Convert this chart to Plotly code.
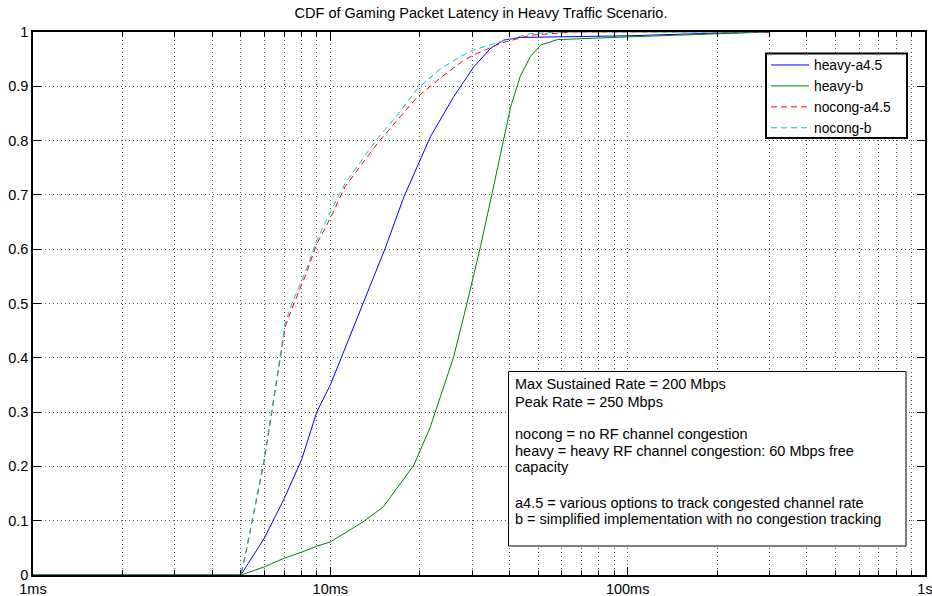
import plotly.graph_objects as go

# ---- data (latency in ms, CDF values) ----
heavy_a45_t = [1, 5, 6, 7, 8, 9, 10, 12.7, 15.3, 17.7, 20, 21.7, 26, 30.4, 34.6, 38.3, 43.5, 60, 100, 200, 300]
heavy_a45_p = [0, 0, 0.068, 0.141, 0.212, 0.30, 0.35, 0.49, 0.602, 0.697, 0.764, 0.807, 0.881, 0.936, 0.970, 0.985, 0.990, 0.991, 0.993, 0.998, 1.0]

heavy_b_t = [1, 5, 6, 7, 8, 9, 10, 12.9, 15.1, 19.1, 21.7, 23.2, 26, 28.8, 32, 35, 38.3, 40.4, 43.5, 47.1, 51, 58, 100, 200, 300]
heavy_b_p = [0, 0, 0.015, 0.031, 0.042, 0.053, 0.061, 0.098, 0.126, 0.2025, 0.273, 0.322, 0.402, 0.50, 0.605, 0.703, 0.801, 0.862, 0.918, 0.955, 0.976, 0.986, 0.991, 0.997, 1.0]

nocong_a45_t = [1, 5, 5.17, 5.52, 5.96, 6.36, 6.79, 7.05, 7.43, 7.93, 8.35, 8.97, 10, 11.2, 12.8, 14.4, 16.8, 19.6, 23.4, 28.1, 30.4, 37.3, 47, 65, 300]
nocong_a45_p = [0, 0, 0.034, 0.114, 0.2025, 0.30, 0.402, 0.457, 0.491, 0.531, 0.559, 0.608, 0.657, 0.715, 0.758, 0.795, 0.838, 0.880, 0.915, 0.948, 0.958, 0.979, 0.994, 1.0, 1.0]

nocong_b_t = [1, 5, 5.17, 5.52, 5.96, 6.36, 6.79, 7.05, 7.43, 7.93, 8.35, 8.97, 10, 11.2, 12.1, 14.4, 16.8, 19.6, 23.4, 27.4, 30.4, 37.3, 47, 59, 300]
nocong_b_p = [0, 0, 0.036, 0.118, 0.208, 0.305, 0.41, 0.463, 0.50, 0.538, 0.566, 0.614, 0.669, 0.721, 0.746, 0.804, 0.847, 0.895, 0.932, 0.955, 0.967, 0.982, 0.997, 1.0, 1.0]

x_tickvals = [1, 10, 100, 1000]
x_ticktext = ["1ms", "10ms", "100ms", "1s"]
x_minorvals = [2, 3, 4, 5, 6, 7, 8, 9, 20, 30, 40, 50, 60, 70, 80, 90, 200, 300, 400, 500, 600, 700, 800, 900]
y_tickvals = [0, 0.1, 0.2, 0.3, 0.4, 0.5, 0.6, 0.7, 0.8, 0.9, 1]
y_ticktext = ["0", "0.1", "0.2", "0.3", "0.4", "0.5", "0.6", "0.7", "0.8", "0.9", "1"]

title_text = "CDF of Gaming Packet Latency in Heavy Traffic Scenario."
note_lines = [
    "Max Sustained Rate = 200 Mbps",
    "Peak Rate = 250 Mbps",
    "nocong = no RF channel congestion",
    "heavy = heavy RF channel congestion: 60 Mbps free",
    "capacity",
    "a4.5 = various options to track congested channel rate",
    "b = simplified implementation with no congestion tracking",
]

# ---- layout geometry ----
W, H = 932, 596
ML, MR, MT, MB = 33, 7, 32, 21
PW, PH = W - ML - MR, H - MT - MB
FONT = "Liberation Sans, Arial, Helvetica, sans-serif"
FS = 14.5
LEG_FS = 13.8


def px_x(x):
    return (x - ML) / PW


def px_y(y):
    return (H - MB - y) / PH


fig = go.Figure()
series = [
    ("heavy-a4.5", heavy_a45_t, heavy_a45_p, "#0000FF", "solid"),
    ("heavy-b", heavy_b_t, heavy_b_p, "#008000", "solid"),
    ("nocong-a4.5", nocong_a45_t, nocong_a45_p, "#FF0000", "6px,4px"),
    ("nocong-b", nocong_b_t, nocong_b_p, "#00C8C8", "6px,4px"),
]
for name, t, p, c, d in series:
    fig.add_trace(go.Scatter(x=t, y=p, mode="lines", name=name,
                             line=dict(color=c, width=1, dash=d)))

grid_kw = dict(showgrid=True, gridcolor="#555555", gridwidth=1, griddash="1px,3px")
axis_kw = dict(showline=True, linecolor="black", linewidth=1.5, mirror="ticks",
               ticks="inside", ticklen=8, tickcolor="black", tickwidth=1,
               tickfont=dict(family=FONT, size=FS, color="black"), zeroline=False,
               automargin=False, ticklabeloverflow="allow")

fig.update_xaxes(type="log", range=[0, 3], tickvals=x_tickvals, ticktext=x_ticktext,
                 minor=dict(tickvals=x_minorvals, ticks="inside", ticklen=5, tickcolor="black",
                            showgrid=True, gridcolor="#555555", griddash="1px,3px", gridwidth=1),
                 **grid_kw, **axis_kw)
fig.update_yaxes(range=[0, 1], tickvals=y_tickvals, ticktext=y_ticktext, **grid_kw, **axis_kw)

# legend frame
fig.add_shape(type="rect", xref="paper", yref="paper",
              x0=px_x(766), x1=px_x(907), y0=px_y(138), y1=px_y(53.5),
              line=dict(color="black", width=2), fillcolor="white", layer="above")

# note box
fig.add_shape(type="rect", xref="paper", yref="paper",
              x0=px_x(508.5), x1=px_x(906), y0=px_y(546), y1=px_y(371.5),
              line=dict(color="black", width=1), fillcolor="white", layer="above")
note_y = [384, 401.7, 434, 450.7, 467.3, 502.7, 519.3]
for txt, yy in zip(note_lines, note_y):
    fig.add_annotation(text=txt, xref="paper", yref="paper", x=px_x(514), y=px_y(yy),
                       xanchor="left", yanchor="middle", showarrow=False, borderpad=0,
                       font=dict(family=FONT, size=FS, color="black"))

fig.update_layout(
    width=W, height=H,
    margin=dict(l=ML, r=MR, t=MT, b=MB, autoexpand=False),
    paper_bgcolor="white", plot_bgcolor="white",
    title=dict(text=title_text, x=(ML + px_x(481) * PW) / W, xanchor="center",
               y=1 - 12.7 / H, yanchor="middle", yref="container",
               font=dict(family=FONT, size=FS, color="black")),
    legend=dict(x=px_x(766), y=px_y(49.5), xanchor="left", yanchor="top",
                bgcolor="rgba(0,0,0,0)", borderwidth=0, itemwidth=38,
                font=dict(family=FONT, size=LEG_FS, color="black"),
                tracegroupgap=0),
    showlegend=True,
)

fig.write_html("out.html")
